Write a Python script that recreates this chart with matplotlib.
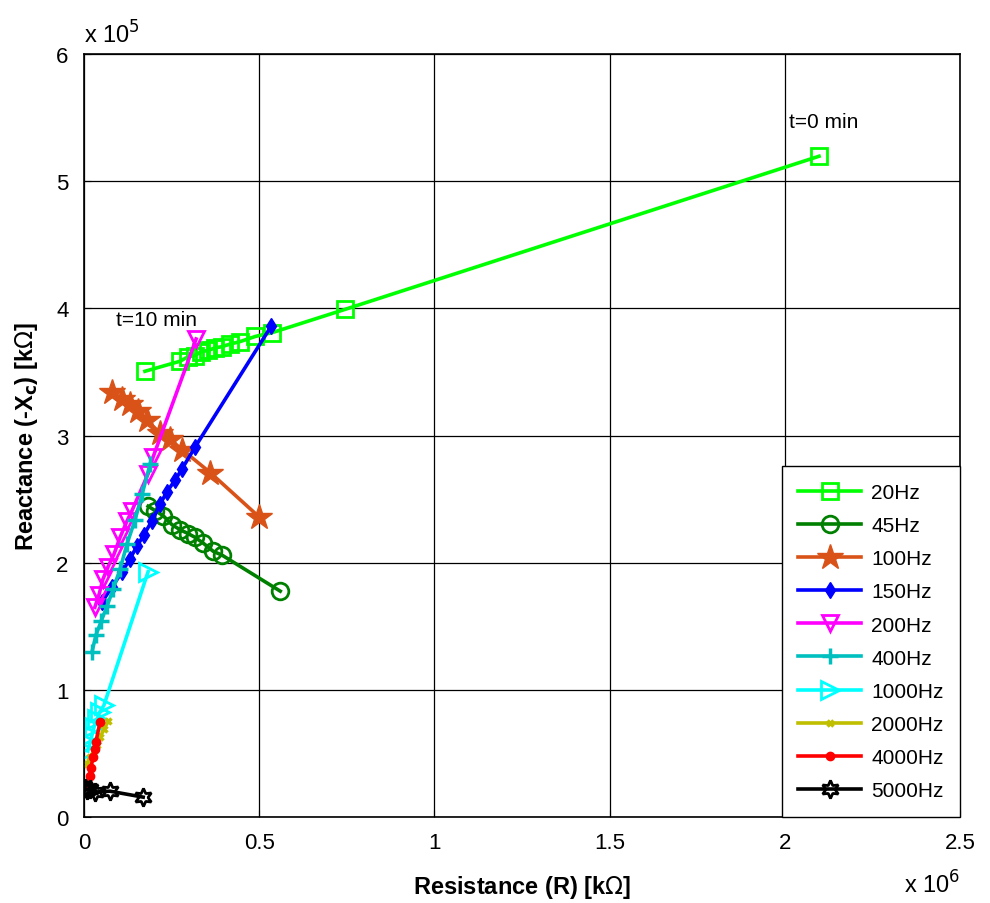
import numpy as np
import matplotlib
matplotlib.use('Agg')
import matplotlib.pyplot as plt
from matplotlib.ticker import FuncFormatter, MultipleLocator

plt.rcParams['font.family'] = ['Liberation Sans', 'DejaVu Sans']

# Resistance (R) and reactance (-Xc) in kOhm, from t=0 min to t=10 min
r_20 = [2.097e6, 0.746e6, 0.537e6, 0.489e6, 0.446e6, 0.417e6, 0.394e6, 0.374e6, 0.354e6, 0.334e6, 0.317e6, 0.297e6, 0.274e6, 0.174e6]
x_20 = [5.197e5, 3.994e5, 3.81e5, 3.78e5, 3.74e5, 3.72e5, 3.70e5, 3.69e5, 3.67e5, 3.66e5, 3.63e5, 3.62e5, 3.585e5, 3.506e5]

r_45 = [0.56e6, 0.394e6, 0.369e6, 0.34e6, 0.317e6, 0.297e6, 0.274e6, 0.251e6, 0.226e6, 0.203e6, 0.183e6]
x_45 = [1.777e5, 2.06e5, 2.09e5, 2.155e5, 2.20e5, 2.23e5, 2.26e5, 2.30e5, 2.37e5, 2.41e5, 2.445e5]

r_100 = [0.50e6, 0.36e6, 0.28e6, 0.246e6, 0.217e6, 0.18e6, 0.154e6, 0.131e6, 0.109e6, 0.08e6]
x_100 = [2.36e5, 2.71e5, 2.89e5, 2.97e5, 3.02e5, 3.12e5, 3.19e5, 3.25e5, 3.29e5, 3.34e5]

r_150 = [0.534e6, 0.317e6, 0.28e6, 0.26e6, 0.237e6, 0.217e6, 0.194e6, 0.171e6, 0.151e6, 0.131e6, 0.109e6, 0.08e6, 0.051e6]
x_150 = [3.86e5, 2.91e5, 2.74e5, 2.65e5, 2.56e5, 2.46e5, 2.33e5, 2.22e5, 2.13e5, 2.03e5, 1.93e5, 1.81e5, 1.69e5]

r_200 = [0.32e6, 0.197e6, 0.183e6, 0.137e6, 0.123e6, 0.103e6, 0.086e6, 0.069e6, 0.054e6, 0.043e6, 0.031e6]
x_200 = [3.76e5, 2.83e5, 2.70e5, 2.41e5, 2.33e5, 2.20e5, 2.07e5, 1.97e5, 1.87e5, 1.75e5, 1.65e5]

r_400 = [0.189e6, 0.166e6, 0.146e6, 0.123e6, 0.103e6, 0.083e6, 0.066e6, 0.049e6, 0.034e6, 0.023e6]
x_400 = [2.78e5, 2.54e5, 2.34e5, 2.15e5, 1.95e5, 1.79e5, 1.66e5, 1.54e5, 1.43e5, 1.30e5]

r_1000 = [0.183e6, 0.057e6, 0.046e6, 0.037e6, 0.029e6, 0.023e6, 0.017e6, 0.011e6]
x_1000 = [1.93e5, 0.88e5, 0.83e5, 0.77e5, 0.71e5, 0.645e5, 0.58e5, 0.52e5]

r_2000 = [0.069e6, 0.057e6, 0.046e6, 0.037e6, 0.029e6, 0.017e6, 0.009e6]
x_2000 = [0.755e5, 0.69e5, 0.63e5, 0.57e5, 0.52e5, 0.47e5, 0.42e5]

r_4000 = [0.046e6, 0.034e6, 0.031e6, 0.026e6, 0.02e6, 0.017e6, 0.011e6]
x_4000 = [0.75e5, 0.59e5, 0.535e5, 0.47e5, 0.39e5, 0.32e5, 0.26e5]

r_5000 = [0.169e6, 0.074e6, 0.031e6, 0.017e6, 0.009e6, 0.003e6]
x_5000 = [0.157e5, 0.204e5, 0.197e5, 0.22e5, 0.212e5, 0.228e5]

fig = plt.figure(figsize=(9.9, 9.04), dpi=100)
ax = fig.add_axes([0.0848, 0.095, 0.8852, 0.844])

lw = 2.6
ax.plot(r_20, x_20, color='#00ff00', lw=lw, marker='s', ms=11, mfc='none', mew=2, label='20Hz')
ax.plot(r_45, x_45, color='#008000', lw=lw, marker='o', ms=12, mfc='none', mew=2, label='45Hz')
ax.plot(r_100, x_100, color='#d95319', lw=lw, marker='*', ms=19, label='100Hz')
ax.plot(r_150, x_150, color='#0000ff', lw=lw, marker='d', ms=8, label='150Hz')
ax.plot(r_200, x_200, color='#ff00ff', lw=lw, marker='v', ms=12, mfc='none', mew=2, label='200Hz')
ax.plot(r_400, x_400, color='#00bfbf', lw=lw, marker='+', ms=11, mew=2.5, label='400Hz')
ax.plot(r_1000, x_1000, color='#00ffff', lw=lw, marker='>', ms=13, mfc='none', mew=2, label='1000Hz')
ax.plot(r_2000, x_2000, color='#bfbf00', lw=lw, marker='x', ms=5, mew=2.5, label='2000Hz')
ax.plot(r_4000, x_4000, color='#ff0000', lw=lw, marker='o', ms=6, label='4000Hz')
ax.plot(r_5000, x_5000, color='#000000', lw=lw, marker=(6, 1, 0), ms=13, mfc='none', mew=2, label='5000Hz')

ax.text(2.01e6, 5.43e5, 't=0 min', fontsize=15)
ax.text(0.092e6, 3.87e5, 't=10 min', fontsize=15)

ax.set_xlim(0, 2.5e6)
ax.set_ylim(0, 6e5)
ax.xaxis.set_major_locator(MultipleLocator(0.5e6))
ax.yaxis.set_major_locator(MultipleLocator(1e5))
ax.xaxis.set_major_formatter(FuncFormatter(lambda v, p: f'{v / 1e6:g}'))
ax.yaxis.set_major_formatter(FuncFormatter(lambda v, p: f'{v / 1e5:g}'))
ax.tick_params(labelsize=16, direction='in', length=5, pad=11)
ax.grid(True, color='black', lw=0.9, ls='-')
for s in ax.spines.values():
    s.set_linewidth(1.2)

ax.set_xlabel(r'Resistance (R) [k$\Omega$]', fontsize=17, fontweight='bold', labelpad=14)
ax.set_ylabel(r'Reactance (-X$_\mathbf{c}$) [k$\Omega$]', fontsize=17, fontweight='bold', labelpad=12)

ax.text(0.0, 1.008, r'x 10$^5$', transform=ax.transAxes, fontsize=17, ha='left', va='bottom')
ax.text(1.0, -0.07, r'x 10$^6$', transform=ax.transAxes, fontsize=17, ha='right', va='top')

leg = ax.legend(loc='lower right', borderaxespad=0, fontsize=15, handlelength=3.0,
                handletextpad=0.5, labelspacing=0.68, fancybox=False, edgecolor='black',
                framealpha=1, borderpad=0.8)
leg.get_frame().set_linewidth(1.0)

plt.savefig('out.png', dpi=100)
